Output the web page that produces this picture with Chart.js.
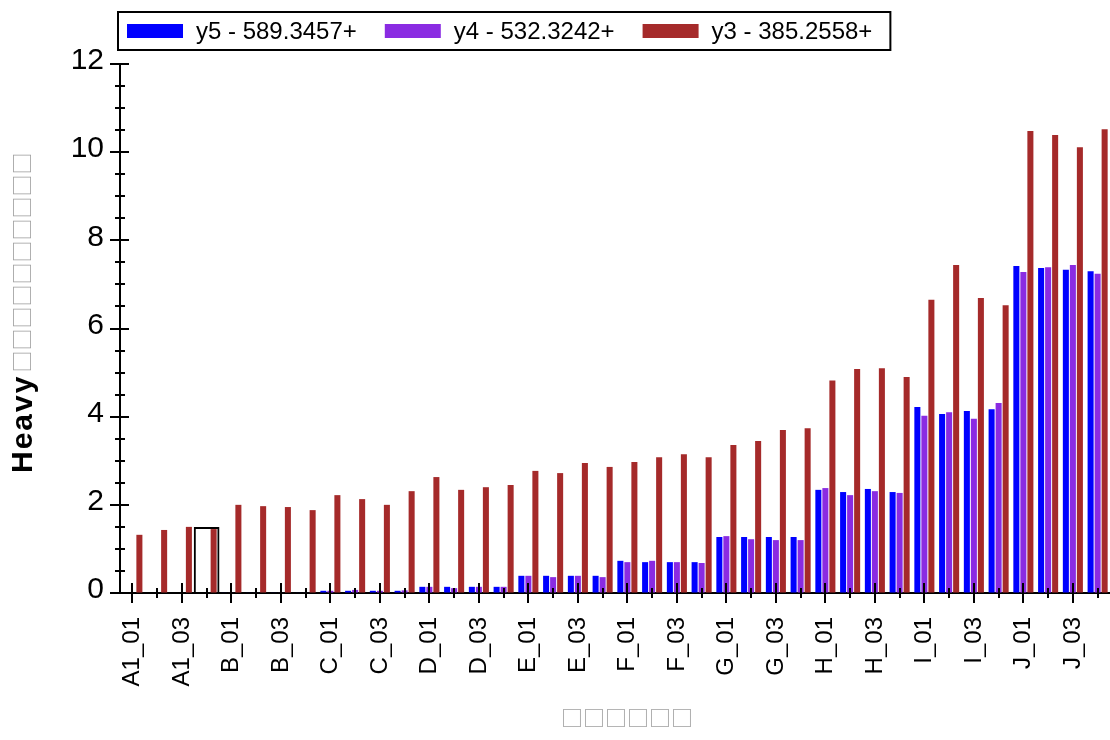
<!DOCTYPE html>
<html>
<head>
<meta charset="utf-8">
<script src="https://cdn.jsdelivr.net/npm/chart.js@4/dist/chart.umd.min.js"></script>
<style>
  html, body { margin: 0; padding: 0; background: #fff; overflow: hidden; }
</style>
</head>
<body>
<canvas id="myChart" width="1110" height="740"></canvas>
<script>
// --- data ---
const categories = [
  'A1_01', 'A1_02', 'A1_03', 'A1_04',
  'B_01', 'B_02', 'B_03', 'B_04',
  'C_01', 'C_02', 'C_03', 'C_04',
  'D_01', 'D_02', 'D_03', 'D_04',
  'E_01', 'E_02', 'E_03', 'E_04',
  'F_01', 'F_02', 'F_03', 'F_04',
  'G_01', 'G_02', 'G_03', 'G_04',
  'H_01', 'H_02', 'H_03', 'H_04',
  'I_01', 'I_02', 'I_03', 'I_04',
  'J_01', 'J_02', 'J_03', 'J_04'
];
const y5 = [
  0, 0, 0, 0,
  0.01, 0.01, 0.01, 0.01,
  0.05, 0.05, 0.05, 0.05,
  0.14, 0.14, 0.14, 0.14,
  0.39, 0.39, 0.39, 0.39,
  0.73, 0.70, 0.70, 0.70,
  1.27, 1.27, 1.27, 1.27,
  2.34, 2.29, 2.36, 2.29,
  4.22, 4.06, 4.13, 4.17,
  7.42, 7.37, 7.33, 7.30
];
const y4 = [
  0, 0, 0, 0,
  0.01, 0.01, 0.01, 0.01,
  0.05, 0.07, 0.05, 0.06,
  0.14, 0.11, 0.14, 0.14,
  0.39, 0.36, 0.39, 0.36,
  0.70, 0.73, 0.70, 0.68,
  1.29, 1.22, 1.20, 1.20,
  2.38, 2.22, 2.31, 2.27,
  4.02, 4.10, 3.95, 4.31,
  7.28, 7.39, 7.44, 7.24
];
const y3 = [
  1.32, 1.43, 1.50, 1.45,
  2.00, 1.97, 1.95, 1.88,
  2.22, 2.13, 2.00, 2.31,
  2.63, 2.34, 2.40, 2.45,
  2.77, 2.72, 2.95, 2.86,
  2.97, 3.08, 3.15, 3.08,
  3.36, 3.45, 3.70, 3.74,
  4.82, 5.08, 5.10, 4.90,
  6.65, 7.44, 6.69, 6.53,
  10.48, 10.39, 10.11, 10.52
];
const seriesNames = ['y5 - 589.3457+', 'y4 - 532.3242+', 'y3 - 385.2558+'];
const seriesColors = ['#0000FF', '#8A2BE2', '#A52A2A'];
const yTickLabels = [0, 2, 4, 6, 8, 10, 12];
const highlightCat = 'A1_04';
const highlightValue = 1.5;
const xTitle = '□□□□□□';
const yTitleText = 'Heavy';
const yTitleBoxes = '□□□□□□□□□□';

const FONT = '"Liberation Sans", Arial, sans-serif';
const CJK = '"Noto Sans CJK SC", "DejaVu Sans", sans-serif';

// tick marks crossing the axes, titles and the framed legend
const decorPlugin = {
  id: 'decor',
  afterDraw(chart) {
    const ctx = chart.ctx;
    const xs = chart.scales.x, ys = chart.scales.y;
    const area = chart.chartArea;
    ctx.save();
    ctx.strokeStyle = '#000';
    ctx.lineWidth = 2;
    ctx.beginPath();
    categories.forEach((c, i) => {
      const px = Math.round(xs.getPixelForTick(i));
      const long = i % 2 === 0;
      ctx.moveTo(px, area.bottom - (long ? 10 : 5));
      ctx.lineTo(px, area.bottom + (long ? 10 : 5));
    });
    ys.ticks.forEach(t => {
      const py = Math.round(ys.getPixelForValue(t.value));
      const major = yTickLabels.includes(t.value);
      ctx.moveTo(area.left - (major ? 10 : 5), py);
      ctx.lineTo(area.left + (major ? 9 : 5), py);
    });
    ctx.stroke();

    // legend
    ctx.font = '24px ' + FONT;
    ctx.textBaseline = 'middle';
    ctx.textAlign = 'left';
    let x = 127;
    let right = x;
    chart.data.datasets.forEach(ds => {
      if (!ds.inLegend) return;
      ctx.fillStyle = ds.backgroundColor;
      ctx.fillRect(x, 24, 56, 14);
      ctx.fillStyle = '#000';
      ctx.fillText(ds.label, x + 69, 32);
      right = x + 69 + ctx.measureText(ds.label).width;
      x = right + 28;
    });
    ctx.lineWidth = 2;
    ctx.strokeRect(118, 12, right + 18 - 118, 38);

    // x title
    ctx.font = '22px ' + CJK;
    ctx.fillStyle = '#a0a0a0';
    ctx.textAlign = 'center';
    ctx.fillText(xTitle, 627, 718);

    // y title
    ctx.translate(32, 473);
    ctx.rotate(-Math.PI / 2);
    ctx.textAlign = 'left';
    ctx.textBaseline = 'alphabetic';
    ctx.font = 'bold 30px ' + FONT;
    ctx.letterSpacing = '2px';
    ctx.fillStyle = '#000';
    ctx.fillText(yTitleText, 0, 0);
    const w = ctx.measureText(yTitleText).width;
    ctx.letterSpacing = '0px';
    ctx.font = '22px ' + CJK;
    ctx.fillStyle = '#a0a0a0';
    ctx.fillText(yTitleBoxes, w + 2, -2);
    ctx.restore();
  }
};

const ctx = document.getElementById('myChart');

new Chart(ctx, {
  type: 'bar',
  data: {
    labels: categories,
    datasets: [
      { label: seriesNames[0], data: y5, backgroundColor: seriesColors[0], inLegend: true, order: 1 },
      { label: seriesNames[1], data: y4, backgroundColor: seriesColors[1], inLegend: true, order: 1 },
      { label: seriesNames[2], data: y3, backgroundColor: seriesColors[2], inLegend: true, order: 1 },
      {
        label: 'highlight',
        data: categories.map(c => c === highlightCat ? highlightValue : null),
        backgroundColor: 'rgba(0,0,0,0)',
        borderColor: '#000',
        borderWidth: 2,
        grouped: false,
        barPercentage: 1,
        categoryPercentage: 1.04,
        order: 0
      }
    ]
  },
  options: {
    responsive: false,
    devicePixelRatio: 1,
    animation: false,
    categoryPercentage: 0.85,
    barPercentage: 0.86,
    layout: { padding: { top: 64, left: 0, right: 0, bottom: 0 } },
    plugins: {
      legend: { display: false },
      tooltip: { enabled: false }
    },
    scales: {
      x: {
        offset: true,
        grid: { display: true, drawOnChartArea: false, drawTicks: true, tickLength: 10, color: 'rgba(0,0,0,0)' },
        border: { display: true, color: '#000', width: 2 },
        ticks: {
          autoSkip: false,
          maxRotation: 90,
          minRotation: 90,
          padding: 14,
          color: '#000',
          font: { family: FONT, size: 24 },
          callback: function(v, i) { return i % 2 === 0 ? this.getLabelForValue(v) : ''; }
        },
        afterFit(s) { s.height = 147; s.paddingLeft = 0; s.paddingRight = 0; }
      },
      y: {
        min: 0,
        max: 12,
        grid: { display: true, drawOnChartArea: false, drawTicks: true, tickLength: 10, color: 'rgba(0,0,0,0)' },
        border: { display: true, color: '#000', width: 2 },
        ticks: {
          stepSize: 0.5,
          autoSkip: false,
          padding: 6,
          labelOffset: -3,
          color: '#000',
          font: { family: FONT, size: 30 },
          callback: v => yTickLabels.includes(v) ? v : ''
        },
        afterFit(s) { s.width = 120; s.paddingTop = 0; s.paddingBottom = 0; }
      }
    }
  },
  plugins: [decorPlugin]
});
</script>
</body>
</html>
